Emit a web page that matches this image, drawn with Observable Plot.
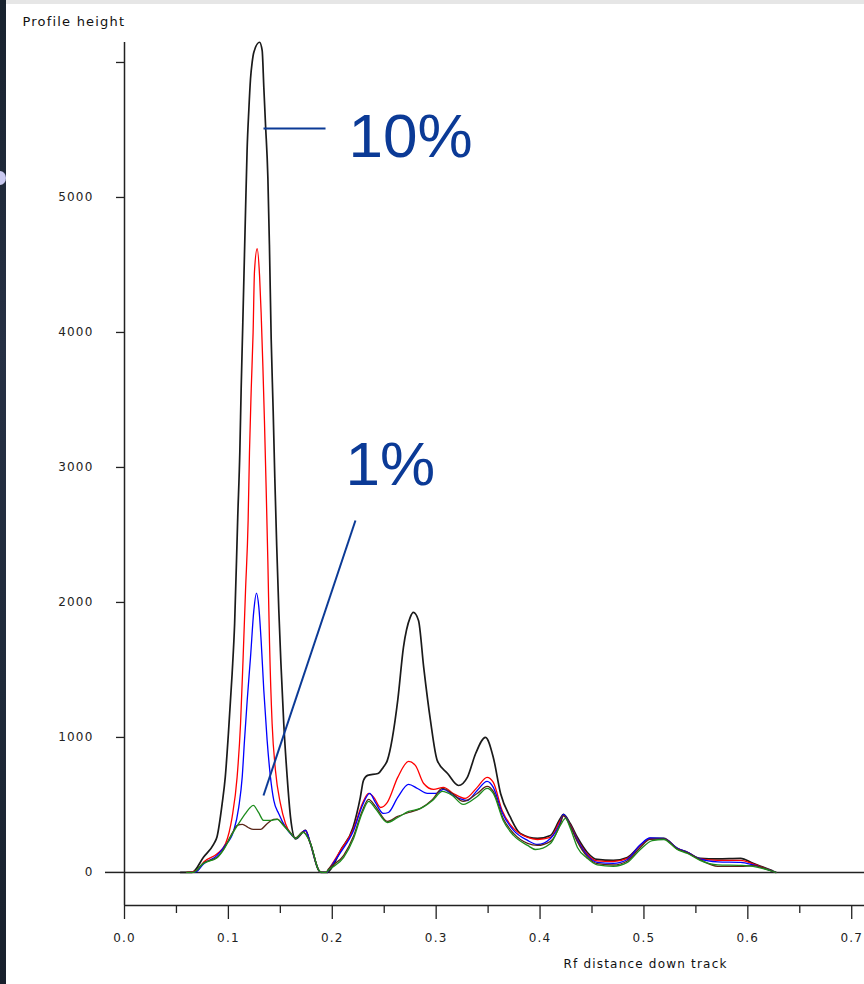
<!DOCTYPE html>
<html><head><meta charset="utf-8">
<script src="https://cdn.jsdelivr.net/npm/d3@7"></script>
<script src="https://cdn.jsdelivr.net/npm/@observablehq/plot@0.6"></script>
<style>
html,body{margin:0;padding:0;background:#fff;}
#wrap{position:relative;width:864px;height:984px;overflow:hidden;background:#fff;}
#strip-left{position:absolute;left:0;top:0;width:6px;height:984px;background:linear-gradient(#18222e,#263044 35%,#1f2a3a 70%,#18202c);}
#strip-top{position:absolute;left:0;top:0;width:864px;height:4px;background:#e6e6e6;}
#dot{position:absolute;left:-6px;top:171px;width:12px;height:14px;border-radius:50%;background:#c9c9f0;}
svg{display:block}
g[aria-label="y-axis tick label"] text, g[aria-label="x-axis tick label"] text, .axislbl text{letter-spacing:1.2px;}
</style></head><body>
<div id="wrap"><div id="chart"></div><div id="strip-top"></div><div id="strip-left"></div><div id="dot"></div></div>
<script>
// ---- data (Rf, profile height) per trace ----
const black = [[0.054,0],[0.065,0],[0.076,113],[0.086,212],[0.089,262],[0.094,509],[0.097,706],[0.100,1027],[0.1036,1472],[0.106,1842],[0.109,2632],[0.111,3113],[0.1123,3583],[0.1139,4076],[0.1165,4900],[0.118,5348],[0.1197,5652],[0.1213,5879],[0.1229,6002],[0.1245,6076],[0.130,6150],[0.1325,6089],[0.1341,5817],[0.1357,5546],[0.138,5150],[0.1395,4650],[0.1412,3950],[0.1431,3422],[0.1447,2916],[0.1465,2422],[0.1485,1950],[0.1505,1560],[0.1533,1101],[0.1566,706],[0.1598,410],[0.1646,249],[0.1742,311],[0.179,212],[0.187,15],[0.189,0],[0.192,0],[0.195,0],[0.199,30],[0.208,163],[0.220,333],[0.227,556],[0.230,681],[0.234,719],[0.244,733],[0.249,778],[0.253,830],[0.263,1274],[0.2685,1667],[0.275,1889],[0.278,1926],[0.283,1867],[0.288,1519],[0.2945,1126],[0.301,830],[0.311,733],[0.3215,644],[0.330,704],[0.338,881],[0.3475,1000],[0.355,852],[0.362,585],[0.3715,407],[0.381,289],[0.3975,252],[0.410,274],[0.4195,400],[0.4225,430],[0.429,363],[0.436,259],[0.4455,148],[0.455,96],[0.4705,89],[0.484,111],[0.4965,200],[0.506,252],[0.519,252],[0.532,178],[0.542,148],[0.554,104],[0.571,100],[0.593,104],[0.605,67],[0.625,7],[0.627,0]];
const red = [[0.060,0],[0.070,15],[0.0763,77],[0.0892,138],[0.0972,212],[0.1036,410],[0.1084,706],[0.1117,1101],[0.1142,1595],[0.1165,2089],[0.119,2607],[0.1203,3113],[0.122,3583],[0.1238,4002],[0.1251,4450],[0.1277,4620],[0.130,4422],[0.1315,4150],[0.1332,3750],[0.1347,3348],[0.1364,2830],[0.138,2300],[0.1396,1700],[0.1421,1101],[0.1453,756],[0.1501,509],[0.155,361],[0.160,287],[0.1646,255],[0.1742,311],[0.179,212],[0.187,15],[0.189,0],[0.192,0],[0.195,0],[0.1965,20],[0.208,163],[0.2205,326],[0.229,511],[0.235,585],[0.240,556],[0.2465,481],[0.253,519],[0.263,704],[0.2735,822],[0.280,793],[0.288,659],[0.2975,615],[0.307,630],[0.3165,585],[0.328,548],[0.3395,630],[0.349,704],[0.355,667],[0.3635,459],[0.3745,326],[0.388,259],[0.3975,244],[0.410,259],[0.4195,385],[0.4225,422],[0.429,352],[0.436,244],[0.4455,135],[0.455,85],[0.4705,81],[0.484,104],[0.4965,200],[0.506,250],[0.519,250],[0.532,178],[0.542,148],[0.554,100],[0.571,89],[0.593,89],[0.605,63],[0.625,5],[0.627,0]];
const blue = [[0.062,0],[0.0683,2],[0.0763,64],[0.0892,126],[0.0956,188],[0.1052,311],[0.110,484],[0.1133,706],[0.1155,978],[0.1181,1274],[0.1213,1595],[0.1245,1941],[0.127,2069],[0.1293,1965],[0.1315,1719],[0.1341,1348],[0.1373,978],[0.1405,706],[0.1437,533],[0.1485,435],[0.155,336],[0.1614,274],[0.1646,252],[0.1742,311],[0.179,212],[0.187,15],[0.189,0],[0.192,0],[0.195,0],[0.1965,18],[0.208,148],[0.2205,311],[0.229,496],[0.236,585],[0.2415,519],[0.249,437],[0.254,444],[0.263,556],[0.2735,652],[0.282,622],[0.2915,585],[0.2995,585],[0.307,615],[0.3165,570],[0.330,533],[0.3395,607],[0.349,674],[0.355,630],[0.3635,444],[0.3745,311],[0.388,237],[0.3975,207],[0.410,252],[0.4195,370],[0.4225,430],[0.429,348],[0.436,237],[0.4455,126],[0.455,74],[0.4705,67],[0.484,96],[0.4965,205],[0.506,255],[0.519,252],[0.532,181],[0.542,148],[0.554,100],[0.571,78],[0.593,74],[0.605,56],[0.625,5],[0.627,0]];
const brown = [[0.060,0],[0.066,0],[0.076,70],[0.0895,115],[0.095,168],[0.104,295],[0.1085,348],[0.1135,356],[0.119,333],[0.124,319],[0.131,319],[0.1375,363],[0.1435,393],[0.147,395],[0.153,352],[0.160,292],[0.1645,255],[0.172,300],[0.179,215],[0.187,15],[0.190,0],[0.194,0],[0.196,22],[0.211,126],[0.2205,270],[0.229,459],[0.235,541],[0.2415,489],[0.253,378],[0.263,415],[0.2735,444],[0.285,474],[0.2965,541],[0.306,622],[0.3155,585],[0.326,526],[0.3395,585],[0.349,637],[0.355,600],[0.3645,400],[0.3745,289],[0.388,215],[0.3975,200],[0.410,230],[0.4195,356],[0.4225,420],[0.429,345],[0.436,225],[0.4455,115],[0.455,65],[0.4705,55],[0.484,85],[0.4965,185],[0.506,245],[0.519,248],[0.532,175],[0.542,145],[0.554,95],[0.571,45],[0.593,45],[0.605,50],[0.625,5],[0.627,0]];
const green = [[0.060,0],[0.066,0],[0.076,67],[0.0895,111],[0.095,163],[0.104,289],[0.110,363],[0.1165,437],[0.121,481],[0.124,496],[0.129,444],[0.134,385],[0.1405,385],[0.147,393],[0.153,348],[0.160,289],[0.1645,252],[0.172,296],[0.179,215],[0.187,15],[0.190,0],[0.194,0],[0.196,15],[0.211,111],[0.2205,252],[0.229,444],[0.235,526],[0.2415,474],[0.253,370],[0.263,407],[0.2735,452],[0.285,474],[0.2965,533],[0.306,600],[0.3155,570],[0.326,504],[0.3395,563],[0.349,622],[0.355,585],[0.3645,385],[0.3745,274],[0.388,200],[0.3955,170],[0.410,215],[0.4195,348],[0.4245,400],[0.429,330],[0.436,185],[0.4455,104],[0.455,56],[0.4705,45],[0.484,74],[0.4965,170],[0.508,235],[0.519,244],[0.532,170],[0.542,140],[0.554,90],[0.571,56],[0.593,52],[0.605,45],[0.625,5],[0.627,0]];

const seriesNames = ["black", "red", "blue", "brown", "green"];
const seriesData = [black, red, blue, brown, green];
const seriesColors = ["#1a1a1a", "#ff0000", "#0000ff", "#5a2618", "#1c8c1c"];

const yLabelTicks = [1000, 2000, 3000, 4000, 5000];
const yBareTicks = [6000];
const xMajorTicks = [0, 0.1, 0.2, 0.3, 0.4, 0.5, 0.6, 0.7];
const xMinorTicks = [0.05, 0.15, 0.25, 0.35, 0.45, 0.55, 0.65];
const yDomain = [-245, 6148];
const xDomain = [0, 0.7123];

const annotationText = ["10%", "1%"];
const annotationRf = [0.2156, 0.2127];
const annotationH = [5444, 3015];
const leaderRf1 = [0.1338, 0.1338];
const leaderH1 = [5511, 570];
const leaderRf2 = [0.1935, 0.2223];
const leaderH2 = [5511, 2607];

const yTitle = "Profile height";
const xTitle = "Rf distance down track";

// ---- build tables ----
const annotations = annotationText.map((t, i) => ({t, x: annotationRf[i], y: annotationH[i]}));
const leaders = leaderRf1.map((x1, i) => ({x1, y1: leaderH1[i], x2: leaderRf2[i], y2: leaderH2[i]}));

const lineMarks = seriesData.map((arr, i) => Plot.line(arr.map(([rf, h]) => ({rf, h})), {
  x: "rf", y: "h", stroke: seriesColors[i], strokeWidth: i === 0 ? 1.7 : 1.3, curve: "monotone-x"
}));

const chart = Plot.plot({
  width: 864,
  height: 984,
  marginLeft: 124,
  marginRight: 0,
  marginTop: 42,
  marginBottom: 79,
  x: {domain: xDomain},
  y: {domain: yDomain},
  style: {fontFamily: "'DejaVu Sans', sans-serif", fontSize: "12px", background: "transparent", color: "#222", overflow: "visible"},
  marks: [
    Plot.ruleY([0], {stroke: "#222", strokeWidth: 1.5}),
    Plot.ruleY([yDomain[0]], {stroke: "#222", strokeWidth: 1.5}),
    Plot.ruleX([0], {stroke: "#222", strokeWidth: 1.5}),
    Plot.axisY({ticks: yLabelTicks, tickSize: 8, tickPadding: 23, tickFormat: d => String(d), label: null, stroke: "#222", strokeWidth: 1.3}),
    Plot.axisY({ticks: yBareTicks, tickSize: 8, text: null, label: null, stroke: "#222", strokeWidth: 1.3}),
    Plot.axisY({ticks: [0], tickSize: 19, tickPadding: 12, tickFormat: d => String(d), label: null, stroke: "#222", strokeWidth: 1.5}),
    Plot.axisX({ticks: xMajorTicks, tickSize: 14, tickPadding: 14, tickFormat: d => d.toFixed(1), label: null, stroke: "#222", strokeWidth: 1.3}),
    Plot.axisX({ticks: xMinorTicks, tickSize: 8, text: null, label: null, stroke: "#222", strokeWidth: 1.3}),
    ...lineMarks,
    Plot.link(leaders, {x1: "x1", y1: "y1", x2: "x2", y2: "y2", stroke: "#0b3a96", strokeWidth: 2}),
    Plot.text(annotations, {x: "x", y: "y", text: "t", textAnchor: "start", fill: "#0b3a96", fontSize: 62, fontFamily: "'Liberation Sans', Arial, sans-serif"}),
    Plot.text([yTitle], {text: d => d, frameAnchor: "top-left", dx: -102, dy: -26, textAnchor: "start", fontSize: 13, fill: "#111", className: "axislbl"}),
    Plot.text([xTitle], {text: d => d, frameAnchor: "bottom-right", dx: -219, dy: 62, textAnchor: "middle", fontSize: 12, fill: "#111", className: "axislbl"})
  ]
});
document.getElementById("chart").appendChild(chart);
</script></body></html>
